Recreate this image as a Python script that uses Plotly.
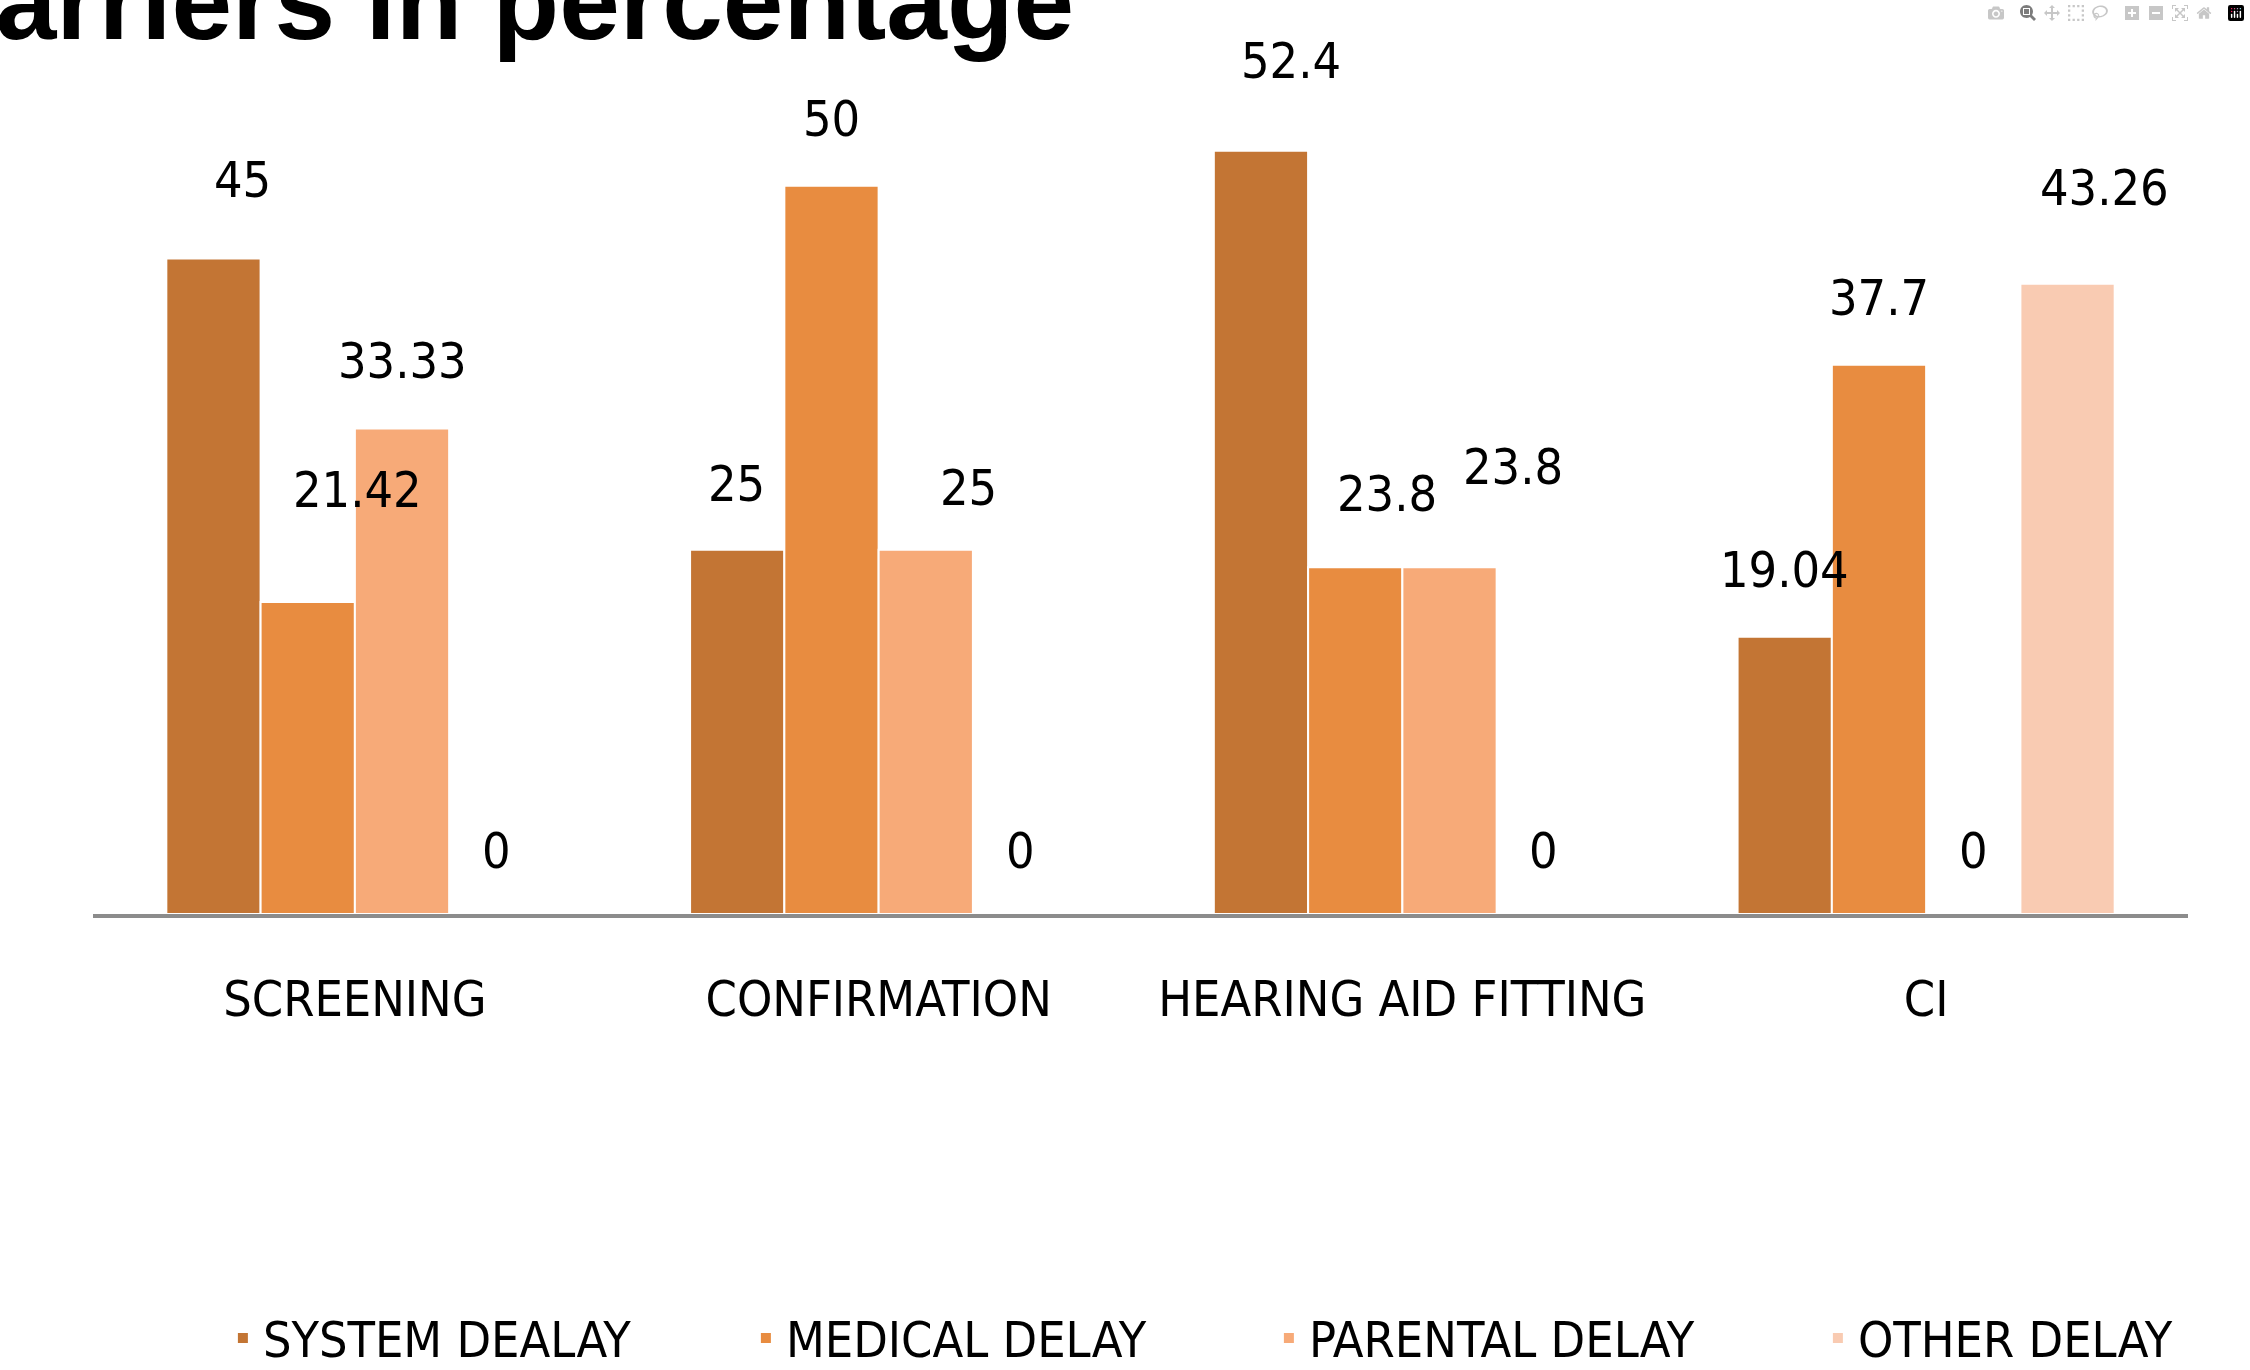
import plotly.graph_objects as go

categories = ["SCREENING", "CONFIRMATION", "HEARING AID FITTING", "CI"]
series_names = ["SYSTEM DEALAY", "MEDICAL DELAY", "PARENTAL DELAY", "OTHER DELAY"]
system_delay = [45, 25, 52.4, 19.04]
medical_delay = [21.42, 50, 23.8, 37.7]
parental_delay = [33.33, 25, 23.8, 0]
other_delay = [0, 0, 0, 43.26]
label_text = [
    ["45", "25", "52.4", "19.04"],
    ["21.42", "50", "23.8", "37.7"],
    ["33.33", "25", "23.8", "0"],
    ["0", "0", "0", "43.26"],
]
title_text = "Barriers in percentage"

series_values = [system_delay, medical_delay, parental_delay, other_delay]
colors = ["#C37534", "#E88C40", "#F7AA78", "#F9CBB2"]
legend_widths = [478, 478, 504, 330]

# label nudges (pixels) as placed in the original slide: (xshift, yshift)
label_nudges = [
    [(29, 79), (-1, 66), (30, 90), (0, 67)],
    [(50, 112), (0, 67), (32, 73), (0, 67)],
    [(0, 67), (43, 62), (63, 100), (0, 63)],
    [(0, 63), (0, 63), (0, 63), (37, 96)],
]

FONT = "DejaVu Sans Condensed, Roboto, sans-serif"
x_pos = list(range(len(categories)))
bargap = 0.28
n = len(series_values)
bw = (1 - bargap) / n

fig = go.Figure()
for i, (name, vals, col) in enumerate(zip(series_names, series_values, colors)):
    fig.add_trace(go.Bar(
        x=x_pos, y=vals, name=name,
        marker=dict(color=col, line=dict(color="white", width=2)),
        legendwidth=legend_widths[i],
    ))

annotations = []
for i, vals in enumerate(series_values):
    off = (i - (n - 1) / 2) * bw
    for j, v in enumerate(vals):
        dx, dy = label_nudges[i][j]
        annotations.append(dict(
            x=x_pos[j] + off, y=v, xref="x", yref="y",
            text=label_text[i][j], showarrow=False,
            xanchor="center", yanchor="middle",
            xshift=dx, yshift=dy,
            font=dict(family=FONT, size=50, color="black"),
        ))

annotations.append(dict(
    x=0.4692, y=1.0446, xref="paper", yref="paper",
    text="<b>" + title_text + "</b>", showarrow=False,
    xanchor="right", yanchor="middle",
    font=dict(family="Liberation Sans, Arial, sans-serif", size=109, color="black"),
))

fig.update_layout(
    width=2250, height=1370,
    margin=dict(l=93, r=62, t=40, b=456, autoexpand=False),
    paper_bgcolor="white", plot_bgcolor="white",
    barmode="group", bargap=bargap, bargroupgap=0,
    showlegend=True,
    legend=dict(
        orientation="h", x=0.062, y=-0.485, xanchor="left", yanchor="middle",
        font=dict(family=FONT, size=50, color="black"),
        traceorder="normal",
    ),
    annotations=annotations,
    xaxis=dict(
        tickmode="array", tickvals=x_pos, ticktext=categories,
        range=[-0.5, len(categories) - 0.5],
        showline=True, linecolor="#8C8C8C", linewidth=4,
        showgrid=False, zeroline=False, ticks="", tickangle=0,
        tickfont=dict(family=FONT, size=50, color="black"),
        ticklabelstandoff=38,
    ),
    yaxis=dict(
        range=[0, 60], visible=False, showgrid=False, zeroline=False,
    ),
)

fig.write_html("out.html", post_script=["document.body.style.margin='0';"])
